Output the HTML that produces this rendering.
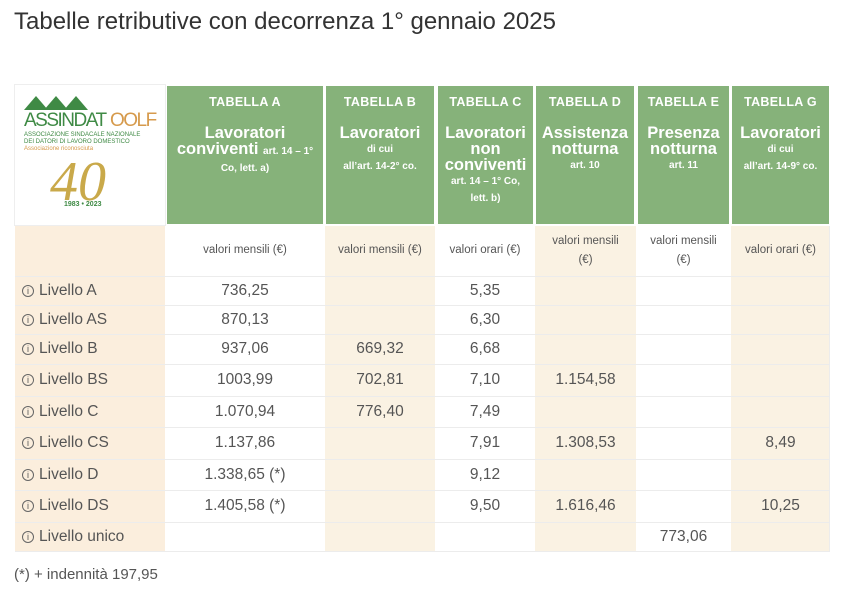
<!DOCTYPE html>
<html><head><meta charset="utf-8"><style>
*{margin:0;padding:0;box-sizing:border-box}
body{width:846px;height:600px;background:#fff;font-family:"Liberation Sans","DejaVu Sans",sans-serif;color:#555;position:relative;overflow:hidden}
.a{position:absolute}
.h{position:absolute;top:86px;height:138px;background:#86b27a;color:#fff;text-align:center;font-weight:bold}
.h .t{font-size:12.5px;margin-top:9px;letter-spacing:0.3px}
.h .b{font-size:16.5px;line-height:16px;margin-top:16px}
.h .s{font-size:10px;line-height:17px}
.col{position:absolute;top:226px;height:325px}
.cr{background:#faf2e3}
.row{position:absolute;left:15px;width:815px;border-top:1px solid #ececec}
.c{position:absolute;text-align:center;font-size:15.5px}
.lab{position:absolute;left:22px;font-size:15.5px}
.lab i{display:inline-block;width:12px;height:12px;border:1px solid #666;border-radius:50%;font-style:normal;font-size:9px;line-height:10px;text-align:center;margin-right:5px;vertical-align:1px}
.u{position:absolute;top:226px;height:49px;font-size:11.5px;text-align:center;display:flex;align-items:center;justify-content:center;line-height:19px}
</style></head><body>
<div class="a" style="left:14px;top:8px;font-size:24px;color:#333">Tabelle retributive con decorrenza 1° gennaio 2025</div>
<div class="a" style="left:14px;top:84px;width:152px;height:142px;border:1px solid #eee"></div>
<div class="col" style="left:15px;width:150px;background:#fbeedd"></div>
<div class="col cr" style="left:325px;width:110px"></div>
<div class="col cr" style="left:535px;width:101px"></div>
<div class="col cr" style="left:731px;width:99px"></div>
<div class="a" style="left:829px;top:226px;width:1px;height:325px;background:#ececec"></div>
<!-- logo -->
<svg class="a" style="left:22px;top:92px" width="140" height="120">
<polygon points="2,18 14,4 26,18" fill="#3f8a45"/><polygon points="22,18 34,4 46,18" fill="#3f8a45"/><polygon points="42,18 54,4 66,18" fill="#3f8a45"/>
<text x="2" y="34" font-size="19" fill="#3f8a45" font-family="Liberation Sans" letter-spacing="-1.5">ASSINDAT</text>
<text x="88" y="34" font-size="19" fill="#d69a4c" font-family="Liberation Sans" letter-spacing="-1.5">OOLF</text>
<text x="2" y="44" font-size="6" fill="#3f8a45">ASSOCIAZIONE SINDACALE NAZIONALE</text>
<text x="2" y="51" font-size="6" fill="#3f8a45">DEI DATORI DI LAVORO DOMESTICO</text>
<text x="2" y="58" font-size="6" fill="#d69a4c">Associazione riconosciuta</text>
<text x="28" y="108" font-size="56" fill="#c9a94a" font-family="Liberation Serif" font-style="italic">40</text>
<text x="42" y="114" font-size="7" fill="#3f8a45" font-weight="bold">1983 • 2023</text>
</svg>
<div class="h" style="left:167px;width:156px"><div class="t">TABELLA A</div><div class="b">Lavoratori<br>conviventi <span style="font-size:10px">art. 14 – 1°</span></div><div class="s">Co, lett. a)</div></div>
<div class="h" style="left:326px;width:108px"><div class="t">TABELLA B</div><div class="b">Lavoratori</div><div class="s">di cui<br>all’art. 14-2° co.</div></div>
<div class="h" style="left:438px;width:95px"><div class="t">TABELLA C</div><div class="b">Lavoratori<br>non<br>conviventi</div><div class="s">art. 14 – 1° Co,<br>lett. b)</div></div>
<div class="h" style="left:536px;width:98px"><div class="t">TABELLA D</div><div class="b">Assistenza<br>notturna</div><div class="s">art. 10</div></div>
<div class="h" style="left:638px;width:91px"><div class="t">TABELLA E</div><div class="b">Presenza<br>notturna</div><div class="s">art. 11</div></div>
<div class="h" style="left:732px;width:97px"><div class="t">TABELLA G</div><div class="b">Lavoratori</div><div class="s">di cui<br>all’art. 14-9° co.</div></div>
<div class="u" style="left:165px;width:160px">valori mensili (€)</div>
<div class="u" style="left:325px;width:110px">valori mensili (€)</div>
<div class="u" style="left:435px;width:100px">valori orari (€)</div>
<div class="u" style="left:535px;width:101px">valori mensili<br>(€)</div>
<div class="u" style="left:636px;width:95px">valori mensili<br>(€)</div>
<div class="u" style="left:731px;width:99px">valori orari (€)</div>
<div id="rows"></div>
<div class="a" style="left:14px;top:566px;font-size:15px">(*) + indennità 197,95</div>
<script>
var R=[[276,305,"Livello A","736,25","","5,35","","",""],[305,334,"Livello AS","870,13","","6,30","","",""],[334,364,"Livello B","937,06","669,32","6,68","","",""],[364,396,"Livello BS","1003,99","702,81","7,10","1.154,58","",""],[396,427,"Livello C","1.070,94","776,40","7,49","","",""],[427,459,"Livello CS","1.137,86","","7,91","1.308,53","","8,49"],[459,490,"Livello D","1.338,65 (*)","","9,12","","",""],[490,522,"Livello DS","1.405,58 (*)","","9,50","1.616,46","","10,25"],[522,551,"Livello unico","","","","","773,06",""]];
var X=[[165,160],[325,110],[435,100],[535,101],[636,95],[731,99]];
var h="";R.forEach(function(r){var t=r[0],hh=r[1]-r[0];h+='<div class="row" style="top:'+t+'px;height:'+hh+'px"></div>';var ty=t+(hh-18)/2;h+='<div class="lab" style="top:'+ty+'px"><i>i</i>'+r[2]+'</div>';for(var k=0;k<6;k++)if(r[3+k])h+='<div class="c" style="left:'+X[k][0]+'px;width:'+X[k][1]+'px;top:'+ty+'px">'+r[3+k]+'</div>';});
h+='<div class="row" style="top:551px;height:1px"></div>';
document.getElementById("rows").innerHTML=h;
</script>
</body></html>
